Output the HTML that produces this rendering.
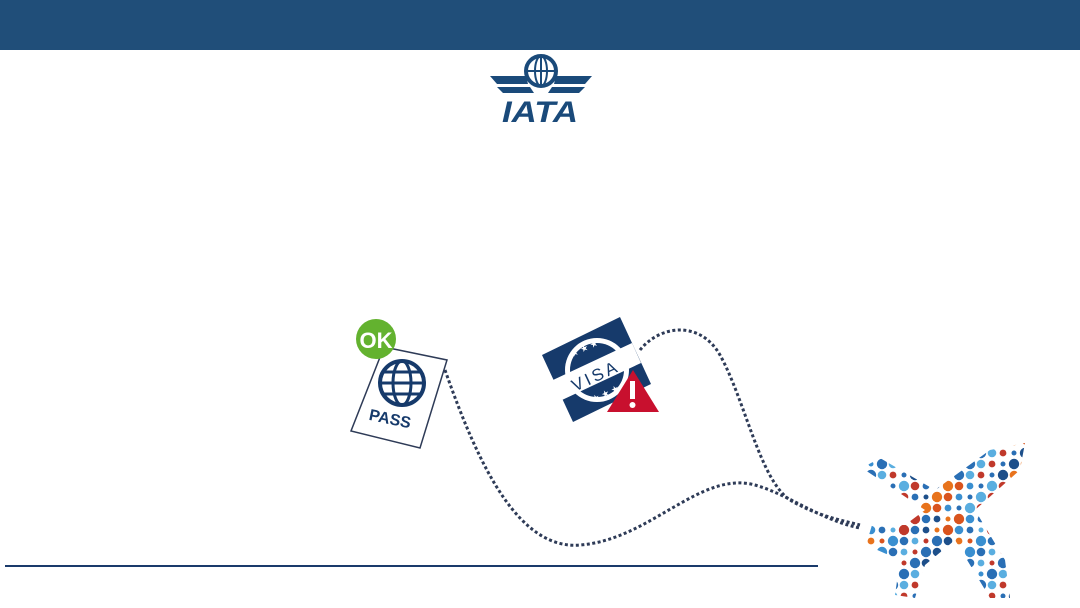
<!DOCTYPE html>
<html><head><meta charset="utf-8"><style>
body{margin:0;width:1080px;height:608px;background:#fff;overflow:hidden;font-family:"Liberation Sans",sans-serif;position:relative}
#hdr{position:absolute;left:0;top:0;width:1080px;height:50px;background:#204e79}
</style></head><body>
<div id="hdr"></div>
<svg width="1080" height="608" style="position:absolute;left:0;top:0">
<defs>
<clipPath id="pl"><path d="M862,468 L880,458 L935,490 L990,450 L1025,443 L1020,470 L975,510 L1005,560 L1010,598 L990,598 L955,540 L925,565 L915,598 L895,595 L900,560 L866,545 L872,525 L905,525 L925,510 Z"/></clipPath>
</defs>
<g>
<circle cx="541" cy="71" r="15" fill="none" stroke="#1a4a7a" stroke-width="4"/>
<ellipse cx="541" cy="71" rx="6" ry="15" fill="none" stroke="#1a4a7a" stroke-width="2"/>
<line x1="526" y1="71" x2="556" y2="71" stroke="#1a4a7a" stroke-width="2"/>
<line x1="541" y1="56" x2="541" y2="86" stroke="#1a4a7a" stroke-width="2"/>
<path d="M490,76 L526,76 L528,84 L497,84 Z M592,76 L556,76 L554,84 L585,84 Z M497,87 L530,87 L534,93 L503,93 Z M585,87 L552,87 L548,93 L579,93 Z" fill="#1a4a7a"/>
<text x="540" y="122" text-anchor="middle" font-size="30" font-weight="bold" font-style="italic" fill="#1a4a7a" font-family="Liberation Sans, sans-serif" textLength="76" lengthAdjust="spacingAndGlyphs">IATA</text>
</g>
<g fill="none" stroke="#2e3b57" stroke-width="3" stroke-dasharray="3 2.5">
<path d="M445,370 C480,470 520,550 580,545 C650,540 700,470 755,485 C790,495 820,520 860,528"/>
<path d="M640,350 C660,325 700,320 720,355 C745,400 760,480 790,500 C815,515 840,520 860,525"/>
</g>
<g>
<polygon points="384,347 447,360 420,448 351,431" fill="#fff" stroke="#2e3b57" stroke-width="1.5"/>
<circle cx="402" cy="383" r="22" fill="none" stroke="#163a6b" stroke-width="4"/>
<ellipse cx="402" cy="383" rx="9" ry="22" fill="none" stroke="#163a6b" stroke-width="3"/>
<line x1="380" y1="383" x2="424" y2="383" stroke="#163a6b" stroke-width="3"/>
<line x1="384" y1="372" x2="420" y2="372" stroke="#163a6b" stroke-width="3"/>
<line x1="384" y1="394" x2="420" y2="394" stroke="#163a6b" stroke-width="3"/>
<text x="389" y="424" text-anchor="middle" font-size="16" font-weight="bold" fill="#163a6b" transform="rotate(12 389 424)">PASS</text>
<circle cx="376" cy="339" r="20" fill="#63b22f"/>
<text x="376" y="348" text-anchor="middle" font-size="22" font-weight="bold" fill="#fff" font-family="Liberation Sans Narrow, Liberation Sans, sans-serif">OK</text>
</g>
<g>
<polygon points="542,355 620,317 651,384 573,422" fill="#163a6b"/>
<circle cx="597" cy="370" r="32" fill="#fff"/>
<circle cx="597" cy="370" r="27" fill="#163a6b"/>
<text x="580" y="348" font-size="9" fill="#fff" transform="rotate(-25 597 370)">★ ★ ★</text>
<text x="580" y="398" font-size="9" fill="#fff" transform="rotate(-25 597 370)">★ ★ ★</text>
<polygon points="553,380 632,343 641,363 562,400" fill="#fff"/>
<text x="598" y="381" text-anchor="middle" font-size="17" fill="#163a6b" letter-spacing="3" transform="rotate(-25 598 381)">VISA</text>
<polygon points="633,370 659,412 607,412" fill="#c8102e"/>
<rect x="630" y="381" width="5" height="18" fill="#fff"/>
<circle cx="632.5" cy="405" r="3" fill="#fff"/>
</g>
<g clip-path="url(#pl)" id="plane"></g>
<line x1="5" y1="566" x2="818" y2="566" stroke="#1a3a6b" stroke-width="2"/>
</svg>
<script>
var g=document.getElementById('plane');
var cols=['#2a6fb5','#e8731c','#c0392b','#3a8fd0','#1d4f8a','#5aaee0','#d9541e','#2a6fb5'];
var k=0;
for(var y=442;y<605;y+=11){for(var x=855;x<1035;x+=11){k++;
var c=document.createElementNS('http://www.w3.org/2000/svg','circle');
c.setAttribute('cx',x+((y/11)%2?5:0));c.setAttribute('cy',y);c.setAttribute('r',2.5+(k*7%4)*0.9);
c.setAttribute('fill',cols[(k*5+Math.floor(y/30))%cols.length]);


g.appendChild(c);}}
</script>
</body></html>
